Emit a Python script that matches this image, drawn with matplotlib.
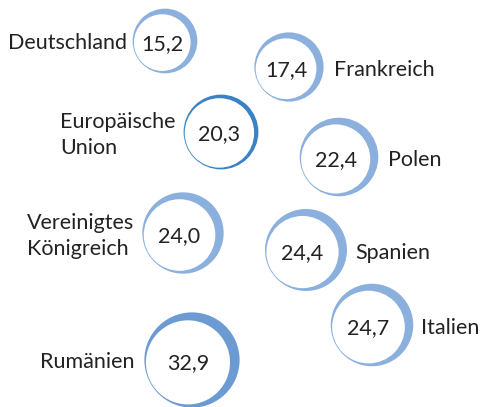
import numpy as np
import matplotlib.pyplot as plt
from matplotlib.patches import Circle

plt.rcParams['font.family'] = ['Lato', 'DejaVu Sans']

# data
countries = ["Deutschland", "Frankreich", "Europäische\nUnion", "Polen",
             "Vereinigtes\nKönigreich", "Spanien", "Italien", "Rumänien"]
values = [15.2, 17.4, 20.3, 22.4, 24.0, 24.4, 24.7, 32.9]
value_labels = ["15,2", "17,4", "20,3", "22,4", "24,0", "24,4", "24,7", "32,9"]

# layout (pixel coords of bubble centres, label side)
centers = [(165, 41), (289, 67), (221, 132), (339, 157),
           (183, 233), (306, 250), (372, 325), (192, 360)]
sides = ["left", "right", "left", "right", "left", "right", "right", "left"]
label_x = [127, 334, 60, 388, 27, 355, 421, 134]
colors = ["#8cb0de", "#8cb0de", "#3b82c4", "#8cb0de",
          "#8cb0de", "#8cb0de", "#8cb0de", "#6b9bd2"]

fig = plt.figure(figsize=(4.82, 4.07), dpi=100)
ax = fig.add_axes([0, 0, 1, 1])
ax.set_xlim(0, 482)
ax.set_ylim(407, 0)
ax.set_aspect("equal")
ax.axis("off")

fs = 15.5
scale = 8.3
for name, v, lab, (cx, cy), side, lx, col in zip(
        countries, values, value_labels, centers, sides, label_x, colors):
    R = scale * np.sqrt(v)
    # ring thickness: EU is a nearly even ring
    d = 0.05 * R if col == "#3b82c4" else 0.1 * R
    r = R - d - 0.8
    ax.add_patch(Circle((cx, cy), R, facecolor=col, edgecolor="none"))
    wx, wy = cx - d * 0.85, cy + d * 0.5
    ax.add_patch(Circle((wx, wy), r, facecolor="white", edgecolor="none"))
    ax.text(wx, wy + 1, lab, ha="center", va="center",
            fontsize=fs, color="#222222")
    if side == "left" and "\n" not in name:
        ax.text(lx, cy + 2, name, ha="right", va="center",
                fontsize=fs, color="#222222")
    else:
        ax.text(lx, cy + 3, name, ha="left", va="center",
                fontsize=fs, color="#222222", linespacing=1.35)

fig.savefig("out.png", dpi=100)
